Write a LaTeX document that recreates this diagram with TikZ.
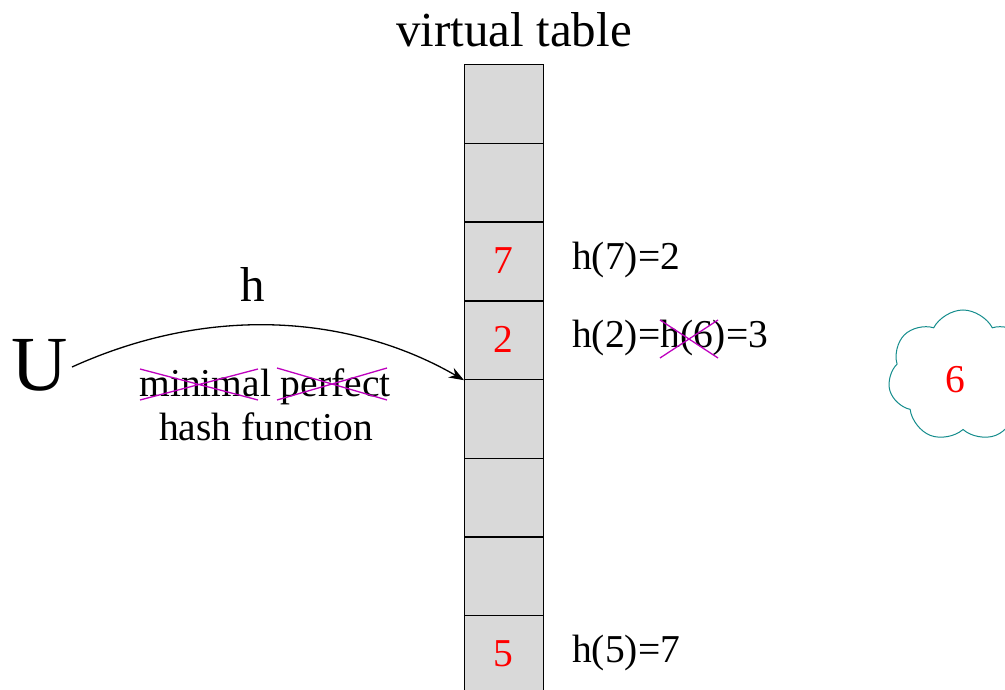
\documentclass[tikz,border=0pt]{standalone}
\usepackage{fontspec}
\setmainfont{Liberation Serif}
\usetikzlibrary{shapes.symbols,arrows.meta}
\definecolor{cellgray}{RGB}{217,217,217}
\definecolor{strike}{RGB}{190,0,190}
\definecolor{cloudteal}{RGB}{20,140,140}
\begin{document}
\begin{tikzpicture}[x=1pt,y=-1pt,
  cellbox/.style={draw=black,fill=cellgray,line width=1.4pt,minimum width=79pt,minimum height=78.7pt,inner sep=0pt,anchor=north west},
  num/.style={text=red,font=\fontsize{39.5}{46}\selectfont},
  lbl/.style={font=\fontsize{39.5}{46}\selectfont,anchor=west,inner sep=0pt},
  xout/.style={draw=strike,line width=1.3pt}]
\useasboundingbox (0,0) rectangle (1005,690);
\begin{scope}
\clip (0,0) rectangle (1005,690);
% table cells
\foreach \i in {1,...,8}{
  \node[cellbox] (c\i) at (464,{64+78.7*(\i-1)}) {};
}
% key outside the table
\node[cloud,cloud puffs=7,cloud puff arc=125,aspect=1,draw=cloudteal,line width=1pt,minimum width=150pt,minimum height=132pt,shape border rotate=180] (cl) at (963,376) {};
\end{scope}
\node[font=\fontsize{49}{56}\selectfont] (title) at (514,30) {virtual table};
% stored keys
\node[num] (k7) at (503.5,261) {7};
\node[num] (k2) at (503.5,339) {2};
\node[num] (k5) at (503.5,654) {5};
\node[num] (k6) at (955,380) {6};
% hash values
\node[lbl] (h7) at (572,260) {h(7)=2};
\node[lbl] (h2) at (572,338) {h(2)=h(6)=3};
\node[lbl] (h5) at (572,653) {h(5)=7};
% universe and mapping
\node[font=\fontsize{78}{90}\selectfont,inner sep=0pt] (U) at (40,365) {U};
\node[font=\fontsize{49}{56}\selectfont] (h) at (253,285) {h};
\node[font=\fontsize{39.5}{46}\selectfont] (mp) at (265,387) {minimal perfect};
\node[font=\fontsize{39.5}{46}\selectfont] (hf) at (266,427) {hash function};
\draw[line width=1.3pt,-{Stealth[length=15pt,width=11pt]}] (72,367) .. controls (220,300) and (360,320) .. (c4.south west);
% struck-out words
\draw[xout] (140,369) -- (258,400) (140,400) -- (258,369);
\draw[xout] (277,368) -- (387,400) (277,400) -- (387,368);
\draw[xout] (660,320) -- (718,358) (660,358) -- (718,320);
\end{tikzpicture}
\end{document}
